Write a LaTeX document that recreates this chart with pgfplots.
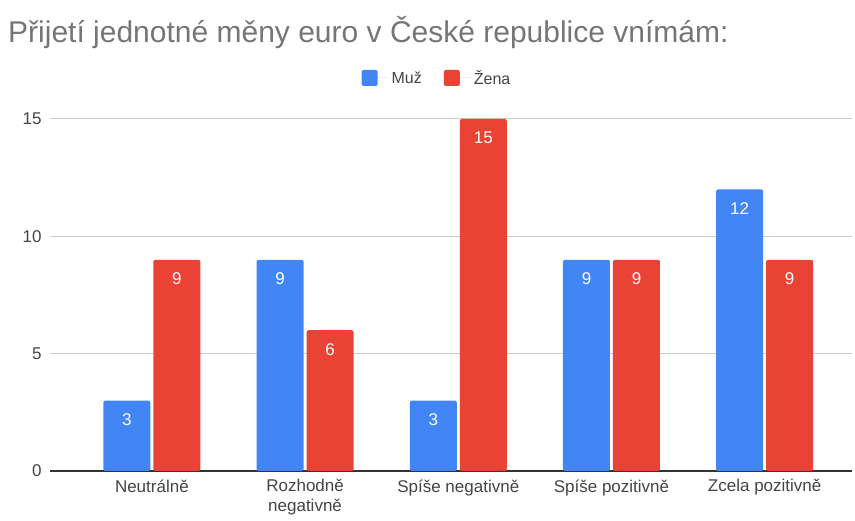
\documentclass[border=0pt]{standalone}
\usepackage{pgfplots}
\pgfplotsset{compat=1.18}
\usepackage{fontspec}
\setmainfont{Liberation Sans}
\definecolor{muz}{HTML}{4285F4}
\definecolor{zena}{HTML}{EA4335}
\definecolor{titlegray}{HTML}{757575}
\definecolor{ticktext}{HTML}{444444}
\definecolor{gridc}{HTML}{CCCCCC}
\definecolor{axisc}{HTML}{333333}
\begin{document}
\begin{tikzpicture}
\useasboundingbox (0pt,0pt) rectangle (855pt,521pt);
\node[anchor=base west, text=titlegray, font=\fontsize{30}{34}\selectfont, inner sep=0pt] at (8pt,478pt) {Přijetí jednotné měny euro v České republice vnímám:};
\begin{axis}[
  at={(50pt,50pt)}, anchor=south west, scale only axis,
  width=802pt, height=352pt,
  ybar=3pt, bar width=47pt,
  xmin=-0.665, xmax=4.57, ymin=0, ymax=15,
  xtick={0,1,2,3,4},
  xticklabels={Neutrálně,{Rozhodně\\negativně},Spíše negativně,Spíše pozitivně,Zcela pozitivně},
  xticklabel style={align=center, font=\fontsize{17}{20}\selectfont, text=ticktext, yshift=-5pt},
  ytick={0,5,10,15},
  yticklabel style={font=\fontsize{17}{20}\selectfont, text=ticktext, xshift=-5pt},
  /pgf/number format/assume math mode=true,
  ymajorgrids, grid style={gridc, line width=1pt},
  axis lines*=left,
  y axis line style={draw=none},
  x axis line style={draw=axisc, line width=1.2pt, -},
  major tick length=0pt,
  nodes near coords,
  every node near coord/.append style={anchor=center, yshift=-19pt, text=white, font=\fontsize{17}{20}\selectfont},
  legend columns=2,
  legend style={draw=none, at={(0.4825,1.1165)}, anchor=center, font=\fontsize{16}{19}\selectfont, text=ticktext,
    /tikz/every even column/.append style={column sep=20pt}},
  legend image code/.code={\fill[#1, rounded corners=2pt] (0pt,-8pt) rectangle (16pt,8pt); \path (0pt,0pt) -- (28pt,0pt);},
]
\addplot[fill=muz, draw=none, rounded corners=2pt] coordinates {(0,3) (1,9) (2,3) (3,9) (4,12)};
\addplot[fill=zena, draw=none, rounded corners=2pt] coordinates {(0,9) (1,6) (2,15) (3,9) (4,9)};
\legend{Muž,Žena}
\end{axis}
\end{tikzpicture}
\end{document}
